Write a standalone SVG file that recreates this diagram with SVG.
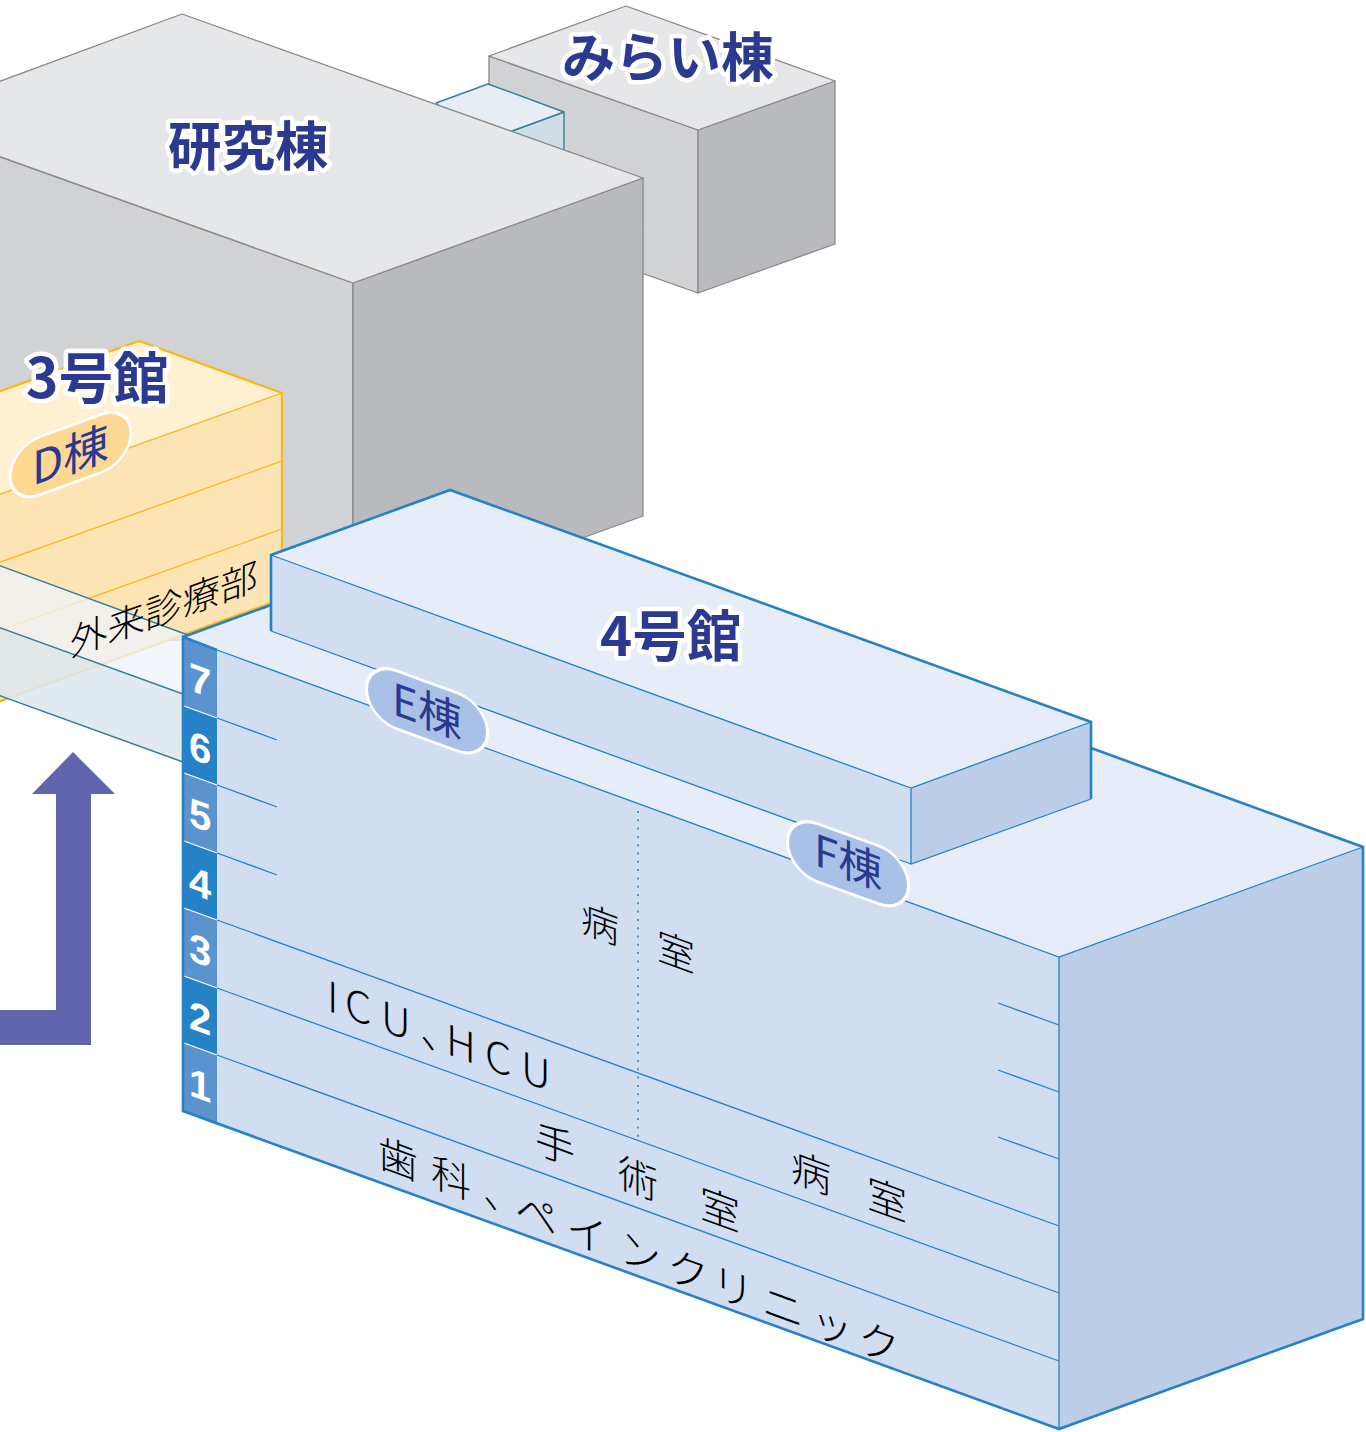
<svg xmlns="http://www.w3.org/2000/svg" width="1366" height="1432" viewBox="0 0 1366 1432">
<style>
.g{stroke:#87888a;stroke-width:1.3;stroke-linejoin:round}
.gt{fill:#e6e7e9}.gl{fill:#d1d2d4}.gr{fill:#b9babe}
.o{stroke:#fbb716;fill:none;stroke-width:1.3}
.b{stroke:#2682c6;fill:none;stroke-width:1.3}
.bo{stroke:#2682c6;stroke-width:2.6;stroke-linejoin:miter;fill:none}
.bt{fill:#e6edf8}.bl{fill:#d1ddf1}.br{fill:#bccde8}
.w{stroke:#fff;stroke-width:1.3}
.c{stroke:#3b7d9b;stroke-width:1.4;stroke-linejoin:round}
text{font-family:"Noto Sans CJK JP","Noto Sans",sans-serif}
.lab{font-size:54px;font-weight:700;fill:#2b3990;stroke:#fff;stroke-width:9px;stroke-linejoin:round;paint-order:stroke}
.pill{font-size:44px;fill:#2b3990}
.pb{fill:#a9c1e6;stroke:#fff;stroke-width:3}
.th{font-size:38px;fill:#000;font-weight:300}
.tl{font-size:40px}
.num{font-family:"Liberation Sans",Arial,sans-serif;font-size:40px;font-weight:700;fill:#fff;text-anchor:middle}
</style>
<g id="mirai">
<polygon class="g gl" points="489,56 698,130 698,293 489,219"/>
<polygon class="g gr" points="698,130 835,81 835,244 698,293"/>
<polygon class="g gt" points="489,56 626,6 835,81 698,130"/>
</g>
<g id="link-upper">
<polygon class="c" fill="#cedee6" points="512,131 564,112 564,170 512,170"/>
<polygon class="c" fill="#e6eef4" points="436,103 488,84 564,112 512,131 480,140"/>
</g>
<g id="kenkyu">
<polygon class="g gl" points="-2,156 353,283 353,640 -2,640"/>
<polygon class="g gr" points="353,283 643,178 643,516 353,621"/>
<polygon class="g gt" points="-2,82 182,14 643,178 353,283 -2,156"/>
<text class="lab" x="168" y="166" style="font-size:53.500px">研究棟</text>
</g>
<g id="mirai-label"><text class="lab" x="562" y="77" style="font-size:53px">みらい棟</text></g>
<g id="bldg3">
<polygon fill="#fde4b4" points="-2,495 282,393 282,599 -2,702"/>
<polygon fill="#fff0d2" points="-2,392 139,341 282,393 -2,495"/>
<path class="o" d="M-2,495 282,393M-2,563 282,461M-2,631 282,529"/>
<path d="M-2,392 139,341 282,393 282,599 -2,702" fill="none" stroke="#fbb716" stroke-width="2.2"/>
<text class="lab" x="26" y="398" style="font-size:55px">3号館</text>
<rect x="10" y="451.300" width="121" height="58" rx="30" ry="29" fill="#fdd893" stroke="#fff" stroke-width="3" transform="matrix(1 -.364 0 1 0 0)"/>
<text class="pill" transform="matrix(1 -.364 0 1 32 486)" style="font-size:45.500px">D棟</text>
</g>
<g id="link-lower">
<polygon fill="#eef3f8" fill-opacity=".78" points="-2,565 188,635 183,694 -2,627"/>
<polygon fill="#dde7ee" fill-opacity=".88" points="-2,627 183,694 183,762 -2,695"/>
<path class="c" fill="none" d="M-2,565 188,635M-2,627 183,694M-2,695 183,762"/>
</g>
<text class="th" transform="matrix(1 -.364 0 1 70 657)" style="font-size:37.500px">外来診療部</text>
<g id="bldg4">
<polygon class="bt" points="183,637 271,605 1091,748 1363,847 1059,957"/>
<polygon class="bl" points="183,637 1059,957 1059,1429 183,1111"/>
<polygon class="br" points="1059,957 1363,847 1363,1319 1059,1429"/>
<polygon class="bl" points="271,555 911,788 911,864 271,631"/>
<polygon class="bt" points="271,555 450,490 1091,722 911,788"/>
<polygon class="br" points="911,788 1091,722 1091,799 911,864"/>
<path class="b" d="M271,555 911,788 1091,722M911,788V864L1091,799M271,631 911,864M217,650 1059,957 1363,847M1059,957V1429"/>
<polygon fill="#5b93ce" points="184,637 217,650 217,1124 184,1111"/>
<polygon fill="#2682c6" points="184,706 217,718 217,785 184,773"/>
<polygon fill="#2682c6" points="184,841 217,853 217,920 184,908"/>
<polygon fill="#2682c6" points="184,976 217,988 217,1055 184,1043"/>
<path class="w" d="M184,706 217,718M184,773 217,785M184,841 217,853M184,908 217,920M184,976 217,988M184,1043 217,1055"/>
<path class="b" d="M217,718 277,740M217,785 277,807M217,853 277,875M217,920 1059,1226M217,988 1059,1293M217,1055 1059,1361M998,1003 1059,1025M998,1070 1059,1092M998,1137 1059,1159"/>
<path d="M638,811V1140" stroke="#2682c6" stroke-width="1.6" stroke-dasharray="2 6.300" fill="none"/>
<path class="bo" d="M183,637 271,605M271,631V555L450,490 1091,722V799M1091,748 1363,847V1319L1059,1429 183,1111V637L217,650"/>
<text class="num" transform="matrix(1 .364 0 1 200 694)">7</text>
<text class="num" transform="matrix(1 .364 0 1 200 762)">6</text>
<text class="num" transform="matrix(1 .364 0 1 200 829)">5</text>
<text class="num" transform="matrix(1 .364 0 1 200 897)">4</text>
<text class="num" transform="matrix(1 .364 0 1 200 964)">3</text>
<text class="num" transform="matrix(1 .364 0 1 200 1032)">2</text>
<text class="num" transform="matrix(1 .364 0 1 200 1099)">1</text>
<text class="lab" x="600" y="656" style="font-size:54.500px">4号館</text>
<rect class="pb" x="366.500" y="526.400" width="121" height="58" rx="30" ry="29" transform="matrix(1 .364 0 1 0 0)"/>
<text class="pill" transform="matrix(1 .364 0 1 392 714)">E棟</text>
<rect class="pb" x="787.500" y="526.100" width="121" height="58" rx="30" ry="29" transform="matrix(1 .364 0 1 0 0)"/>
<text class="pill" transform="matrix(1 .364 0 1 814 865)">F棟</text>
<text class="th" transform="matrix(1 .364 0 1 581 931)">病</text>
<text class="th" transform="matrix(1 .364 0 1 657 959)">室</text>
<text class="th" transform="matrix(1 .364 0 1 327 1010.500)" x="0 18 54 93 119 158 194" style="font-size:42px">ICU、HCU</text>
<text class="th tl" transform="matrix(1 .364 0 1 535 1152)">手</text>
<text class="th tl" transform="matrix(1 .364 0 1 618 1186)">術</text>
<text class="th tl" transform="matrix(1 .364 0 1 700 1217)">室</text>
<text class="th tl" transform="matrix(1 .364 0 1 791 1180)">病</text>
<text class="th tl" transform="matrix(1 .364 0 1 867 1207)">室</text>
<text class="th tl" transform="matrix(1 .364 0 1 378 1166)" x="0 53 105">歯科、</text>
<text class="th" transform="matrix(1 .364 0 1 378 1172)" x="137 188 241 289 334 384 433 480" y="0 .5 1 1.500 2 3 3.500 4" style="font-size:42px">ペインクリニック</text>
</g>
<g id="arrow"><polygon fill="#6165ad" points="-2,1010 56,1010 56,794 32,794 73,752 115,794 91,794 91,1045 -2,1045"/></g>
</svg>
